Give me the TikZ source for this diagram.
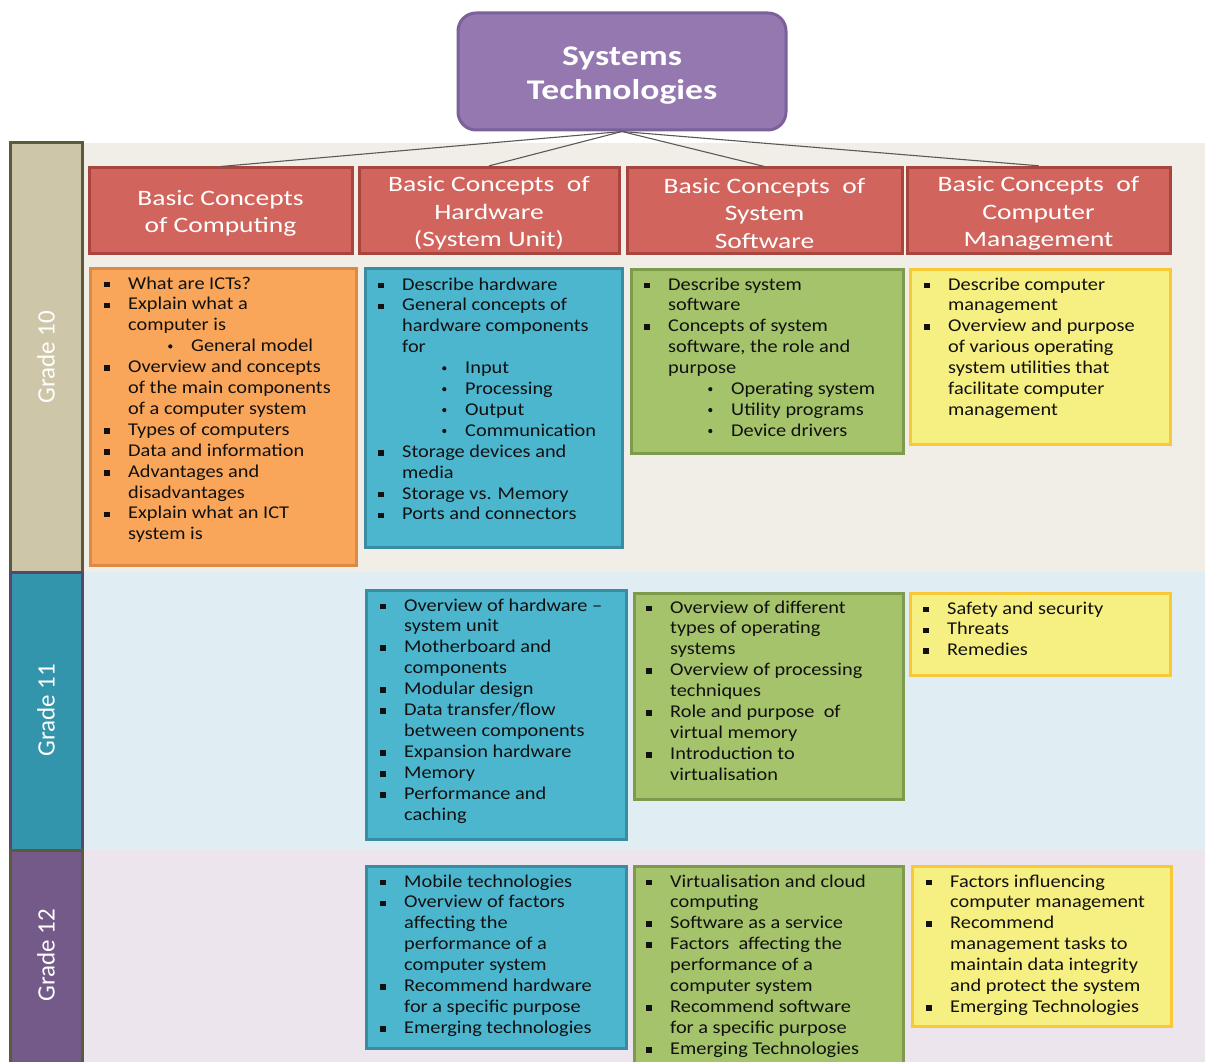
\documentclass[tikz,border=0pt]{standalone}
\usepackage{fontspec}
\setmainfont{Carlito}
\newfontfamily\bodyfont[FakeStretch=1.13]{Carlito}
\newfontfamily\headfont[FakeStretch=1.25]{Carlito}
\newfontfamily\titlefont[FakeStretch=1.25]{Carlito}
\newfontfamily\labfont{Carlito}
\definecolor{titlef}{HTML}{9478AF}
\definecolor{titled}{HTML}{7B6199}
\definecolor{headf}{HTML}{D1655D}
\definecolor{headd}{HTML}{A9453F}
\definecolor{orf}{HTML}{F9A65A}
\definecolor{ord}{HTML}{D98B45}
\definecolor{blf}{HTML}{4DB6CF}
\definecolor{bld}{HTML}{3A8CA3}
\definecolor{grf}{HTML}{A4C36A}
\definecolor{grd}{HTML}{7E9A4C}
\definecolor{yef}{HTML}{F6EF82}
\definecolor{yed}{HTML}{F8C836}
\definecolor{bgA}{HTML}{F0EEE7}
\definecolor{bgB}{HTML}{E0EDF2}
\definecolor{bgC}{HTML}{EDE5EE}
\definecolor{barA}{HTML}{CEC6A8}
\definecolor{barB}{HTML}{3295AB}
\definecolor{barC}{HTML}{735A89}
\definecolor{olive}{HTML}{5C5A3C}
\definecolor{plum}{HTML}{5B446F}
\definecolor{txtc}{HTML}{111111}
\newcommand{\myb}{\makebox[24pt][l]{\raisebox{1.6pt}{\rule{5.8pt}{5.8pt}}}}
\newcommand{\myc}{\hspace*{24pt}}
\newcommand{\mys}{\hspace*{64pt}\makebox[23pt][l]{\raisebox{3.2pt}{\rule{0pt}{0pt}\tikz\fill (0,0) circle (2.1pt);}}}
\newcommand{\mylist}[1]{\parbox[t]{330pt}{\bodyfont\fontsize{18}{20.9}\selectfont #1}}
\begin{document}
\begin{tikzpicture}[x=1pt,y=-1pt,
  bar/.style={draw, line width=3pt, minimum width=72pt},
  grade/.style={rotate=90, text=white, font=\labfont\fontsize{25}{30}\selectfont},
  title/.style={draw=titled, fill=titlef, line width=3pt, rounded corners=18pt,
     minimum width=328pt, minimum height=117pt, text=white, align=center,
     font=\titlefont\bfseries\fontsize{28.5}{34}\selectfont},
  head/.style={draw=headd, fill=headf, line width=3pt, minimum height=85pt,
     text=white, align=center, font=\headfont\fontsize{22}{27.5}\selectfont},
  cbox/.style={line width=3pt, anchor=north west},
  txt/.style={anchor=base west, inner sep=0pt, text=txtc},
  conn/.style={draw=black!65, line width=1.1pt}]
\useasboundingbox (0,0) rectangle (1205,1062);
\fill[white] (0,0) rectangle (1205,1062);
% bands
\fill[bgA] (82,143) rectangle (1205,572);
\fill[bgB] (82,572) rectangle (1205,850);
\fill[bgC] (82,850) rectangle (1205,1080);
% grade bars
\node[bar, fill=barA, draw=olive, minimum height=429pt] (g10) at (46,357.5) {};
\node[bar, fill=barB, draw=plum, minimum height=278pt] (g11) at (46,711) {};
\node[bar, fill=barC, draw=olive, minimum height=240pt] (g12) at (46,970) {};
\node[grade] (l10) at (46,357) {Grade 10};
\node[grade] (l11) at (46,710) {Grade 11};
\node[grade] (l12) at (46,955) {Grade 12};
% title and headers
\node[title] (title) at (622,71.5) {\rule{0pt}{26pt}Systems\\Technologies};
\node[head, minimum width=263pt] (h1) at (220.5,210.5) {\rule{0pt}{21pt}Basic Concepts\\of Computing};
\node[head, minimum width=260pt] (h2) at (489,210.5) {\rule{0pt}{21pt}Basic Concepts\ \ of\\Hardware\\(System Unit)};
\node[head, minimum width=275pt] (h3) at (764.5,210.5) {\rule{0pt}{21pt}Basic Concepts\ \ of\\System\\Software};
\node[head, minimum width=263pt] (h4) at (1038.5,210.5) {\rule{0pt}{21pt}Basic Concepts\ \ of\\Computer\\Management};
\draw[conn] (title.south) -- (h1.north);
\draw[conn] (title.south) -- (h2.north);
\draw[conn] (title.south) -- (h3.north);
\draw[conn] (title.south) -- (h4.north);
% grade 10 boxes
\node[cbox, fill=orf, draw=ord, minimum width=266pt, minimum height=297pt] (b10a) at (89,267) {};
\node[cbox, fill=blf, draw=bld, minimum width=257pt, minimum height=279pt] (b10b) at (364,267) {};
\node[cbox, fill=grf, draw=grd, minimum width=272pt, minimum height=184pt] (b10c) at (630,268) {};
\node[cbox, fill=yef, draw=yed, minimum width=260pt, minimum height=175pt] (b10d) at (909,268) {};
% grade 11 boxes
\node[cbox, fill=blf, draw=bld, minimum width=260pt, minimum height=249pt] (b11b) at (365,589) {};
\node[cbox, fill=grf, draw=grd, minimum width=269pt, minimum height=206pt] (b11c) at (633,592) {};
\node[cbox, fill=yef, draw=yed, minimum width=260pt, minimum height=82pt] (b11d) at (909,592) {};
% grade 12 boxes
\node[cbox, fill=blf, draw=bld, minimum width=260pt, minimum height=182pt] (b12b) at (365,865) {};
\node[cbox, fill=grf, draw=grd, minimum width=269pt, minimum height=215pt] (b12c) at (633,865) {};
\node[cbox, fill=yef, draw=yed, minimum width=259pt, minimum height=160pt] (b12d) at (911,865) {};
% texts grade 10
\node[txt] (t10a) at (104,289) {\mylist{%
\myb What are ICTs?\\
\myb Explain what a\\
\myc computer is\\
\mys General model\\
\myb Overview and concepts\\
\myc of the main components\\
\myc of a computer system\\
\myb Types of computers\\
\myb Data and information\\
\myb Advantages and\\
\myc disadvantages\\
\myb Explain what an ICT\\
\myc system is}};
\node[txt] (t10b) at (378,290) {\mylist{%
\myb Describe hardware\\
\myb General concepts of\\
\myc hardware components\\
\myc for\\
\mys Input\\
\mys Processing\\
\mys Output\\
\mys Communication\\
\myb Storage devices and\\
\myc media\\
\myb Storage vs. Memory\\
\myb Ports and connectors}};
\node[txt] (t10c) at (644,290) {\mylist{%
\myb Describe system\\
\myc software\\
\myb Concepts of system\\
\myc software, the role and\\
\myc purpose\\
\mys Operating system\\
\mys Utility programs\\
\mys Device drivers}};
\node[txt] (t10d) at (924,290) {\mylist{%
\myb Describe computer\\
\myc management\\
\myb Overview and purpose\\
\myc of various operating\\
\myc system utilities that\\
\myc facilitate computer\\
\myc management}};
% texts grade 11
\node[txt] (t11b) at (380,611) {\mylist{%
\myb Overview of hardware –\\
\myc system unit\\
\myb Motherboard and\\
\myc components\\
\myb Modular design\\
\myb Data transfer/flow\\
\myc between components\\
\myb Expansion hardware\\
\myb Memory\\
\myb Performance and\\
\myc caching}};
\node[txt] (t11c) at (646,613) {\mylist{%
\myb Overview of different\\
\myc types of operating\\
\myc systems\\
\myb Overview of processing\\
\myc techniques\\
\myb Role and purpose\ \ of\\
\myc virtual memory\\
\myb Introduction to\\
\myc virtualisation}};
\node[txt] (t11d) at (923,614) {\mylist{%
\myb Safety and security\\
\myb Threats\\
\myb Remedies}};
% texts grade 12
\node[txt] (t12b) at (380,887) {\mylist{%
\myb Mobile technologies\\
\myb Overview of factors\\
\myc affecting the\\
\myc performance of a\\
\myc computer system\\
\myb Recommend hardware\\
\myc for a specific purpose\\
\myb Emerging technologies}};
\node[txt] (t12c) at (646,887) {\mylist{%
\myb Virtualisation and cloud\\
\myc computing\\
\myb Software as a service\\
\myb Factors\ \ affecting the\\
\myc performance of a\\
\myc computer system\\
\myb Recommend software\\
\myc for a specific purpose\\
\myb Emerging Technologies}};
\node[txt] (t12d) at (926,887) {\mylist{%
\myb Factors influencing\\
\myc computer management\\
\myb Recommend\\
\myc management tasks to\\
\myc maintain data integrity\\
\myc and protect the system\\
\myb Emerging Technologies}};
\end{tikzpicture}
\end{document}
